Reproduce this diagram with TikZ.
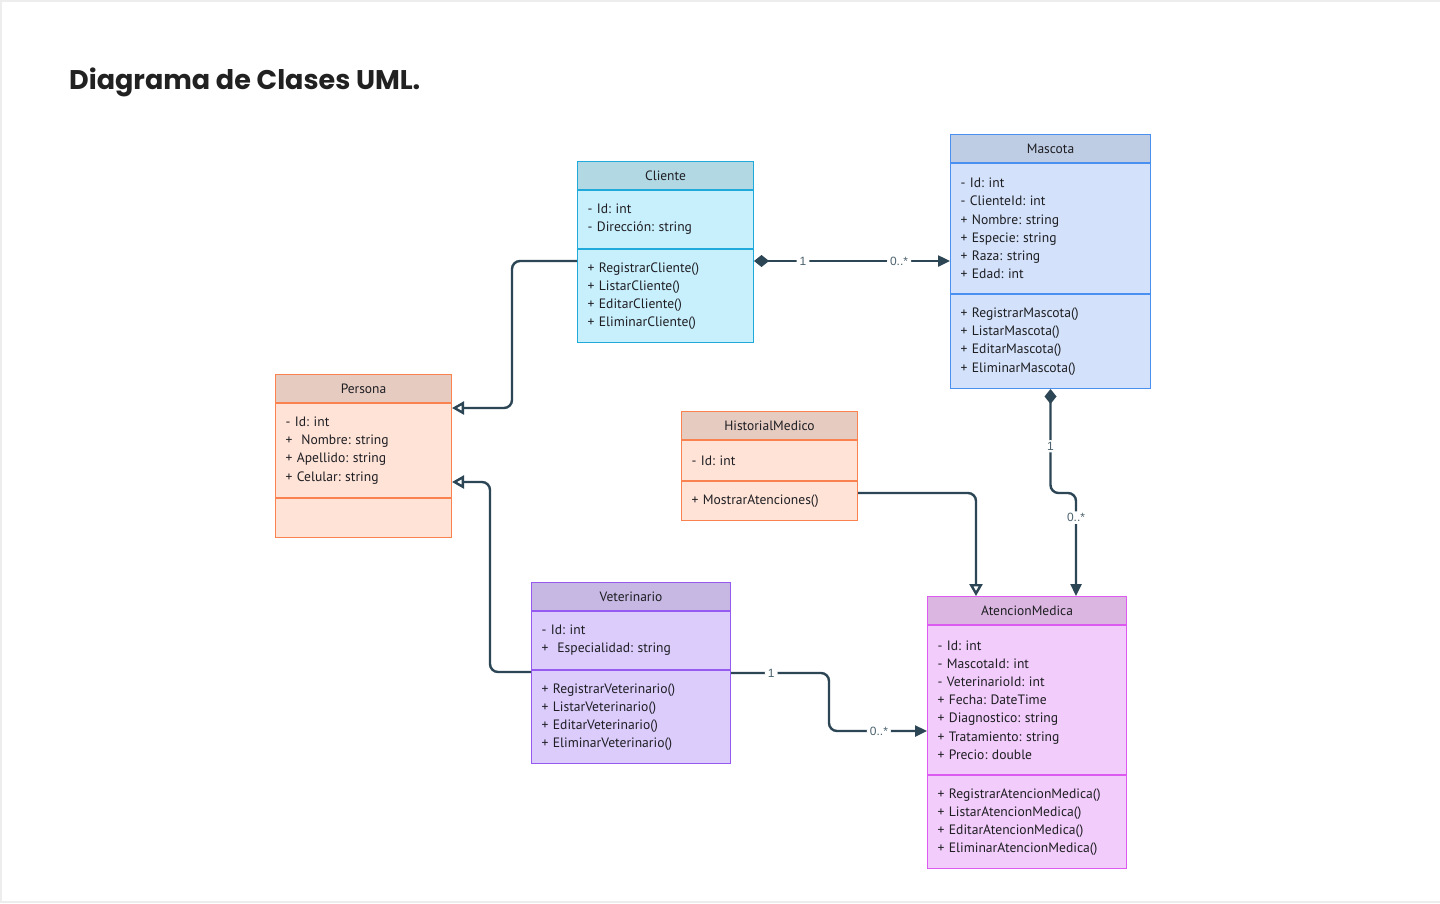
\documentclass[tikz,border=0pt]{standalone}
\usepackage{fontspec}
\setmainfont{PT Sans}
\newfontfamily\titlefont{Poppins}
\newfontfamily\lblfont{Liberation Sans}
\usetikzlibrary{arrows.meta,positioning}
\frenchspacing

\definecolor{cliHead}{RGB}{178,216,228}
\definecolor{cliBody}{RGB}{200,239,252}
\definecolor{cliLine}{RGB}{32,170,220}
\definecolor{masHead}{RGB}{190,205,228}
\definecolor{masBody}{RGB}{211,226,250}
\definecolor{masLine}{RGB}{74,144,240}
\definecolor{perHead}{RGB}{230,203,192}
\definecolor{perBody}{RGB}{255,227,215}
\definecolor{perLine}{RGB}{250,130,80}
\definecolor{vetHead}{RGB}{198,184,226}
\definecolor{vetBody}{RGB}{219,204,252}
\definecolor{vetLine}{RGB}{150,90,240}
\definecolor{ateHead}{RGB}{219,182,225}
\definecolor{ateBody}{RGB}{242,204,250}
\definecolor{ateLine}{RGB}{220,90,240}
\definecolor{wire}{RGB}{45,70,85}
\definecolor{ink}{RGB}{30,30,35}

\tikzset{
  head/.style={draw=#1Line, fill=#1Head, line width=1pt, inner sep=0pt,
    text=ink, font=\fontsize{13.5}{15}\selectfont},
  body/.style={draw=#1Line, fill=#1Body, line width=1pt, inner xsep=10pt,
    inner ysep=0pt, align=left, text=ink, font=\fontsize{13.6}{18.2}\selectfont},
  lbl/.style={fill=white, inner xsep=3pt, inner ysep=2pt, text=wire!85,
    font=\lblfont\fontsize{12}{13}\selectfont},
  wirebase/.style={wire, line width=2.4pt, rounded corners=8pt},
  gen/.style={wirebase, -{Triangle[open,length=12pt,width=13pt]}},
  comp/.style={wirebase, {Diamond[length=15pt,width=12pt]}-{Triangle[length=12pt,width=11pt]}},
  assoc/.style={wirebase, -{Triangle[length=12pt,width=11pt]}},
}

\begin{document}
\begin{tikzpicture}[x=1pt,y=-1pt]
  \useasboundingbox (0,0) rectangle (1440,903);
  \fill[black!7] (0,0) rectangle (1440,903);
  \fill[white] (1.5,2) rectangle (1440,901);

  \node[anchor=base west, inner sep=0pt, text=black!87, font=\titlefont\bfseries\fontsize{27}{30}\selectfont]
    (title) at (69,89) {Diagrama de Clases UML.};

  % Cliente
  \node[head=cli, minimum width=176pt, minimum height=28pt, anchor=north west] (cliente) at (577,161) {Cliente};
  \node[body=cli, text width=156pt, minimum height=58pt, below=0pt of cliente] (cliente-a)
    {- Id: int\\- Dirección: string};
  \node[body=cli, text width=156pt, minimum height=93pt, below=0pt of cliente-a] (cliente-m)
    {+ RegistrarCliente()\\+ ListarCliente()\\+ EditarCliente()\\+ EliminarCliente()};

  % Mascota
  \node[head=mas, minimum width=200pt, minimum height=28pt, anchor=north west] (mascota) at (950,134) {Mascota};
  \node[body=mas, text width=180pt, minimum height=130pt, below=0pt of mascota] (mascota-a)
    {- Id: int\\- ClienteId: int\\+ Nombre: string\\+ Especie: string\\+ Raza: string\\+ Edad: int};
  \node[body=mas, text width=180pt, minimum height=94pt, below=0pt of mascota-a] (mascota-m)
    {+ RegistrarMascota()\\+ ListarMascota()\\+ EditarMascota()\\+ EliminarMascota()};

  % Persona
  \node[head=per, minimum width=176pt, minimum height=28pt, anchor=north west] (persona) at (275,374) {Persona};
  \node[body=per, text width=156pt, minimum height=94pt, below=0pt of persona] (persona-a)
    {- Id: int\\+\ \ Nombre: string\\+ Apellido: string\\+ Celular: string};
  \node[body=per, text width=156pt, minimum height=39pt, below=0pt of persona-a] (persona-m) {};

  % HistorialMedico
  \node[head=per, minimum width=176pt, minimum height=28pt, anchor=north west] (historial) at (681,411) {HistorialMedico};
  \node[body=per, text width=156pt, minimum height=40pt, below=0pt of historial] (historial-a)
    {- Id: int};
  \node[body=per, text width=156pt, minimum height=39pt, below=0pt of historial-a] (historial-m)
    {+ MostrarAtenciones()};

  % Veterinario
  \node[head=vet, minimum width=199pt, minimum height=28pt, anchor=north west] (vet) at (531,582) {Veterinario};
  \node[body=vet, text width=179pt, minimum height=58pt, below=0pt of vet] (vet-a)
    {- Id: int\\+\ \ Especialidad: string};
  \node[body=vet, text width=179pt, minimum height=93pt, below=0pt of vet-a] (vet-m)
    {+ RegistrarVeterinario()\\+ ListarVeterinario()\\+ EditarVeterinario()\\+ EliminarVeterinario()};

  % AtencionMedica
  \node[head=ate, minimum width=199pt, minimum height=28pt, anchor=north west] (atencion) at (927,596) {AtencionMedica};
  \node[body=ate, text width=179pt, minimum height=149pt, below=0pt of atencion] (atencion-a)
    {- Id: int\\- MascotaId: int\\- VeterinarioId: int\\+ Fecha: DateTime\\+ Diagnostico: string\\+ Tratamiento: string\\+ Precio: double};
  \node[body=ate, text width=179pt, minimum height=93pt, below=0pt of atencion-a] (atencion-m)
    {+ RegistrarAtencionMedica()\\+ ListarAtencionMedica()\\+ EditarAtencionMedica()\\+ EliminarAtencionMedica()};

  % relations
  \draw[gen] ([yshift=-12pt]cliente-m.north west) -- ++(-65,0) |- ([yshift=-5pt]persona-a.north east);
  \draw[gen] ([yshift=-2pt]vet-m.north west) -- ++(-41,0) |- ([yshift=16pt]persona-a.south east);
  \coordinate (cm) at ([yshift=-12pt]cliente-m.north east);
  \draw[comp] (cm) -- node[lbl,pos=0.25]{1} node[lbl,pos=0.74]{0..*} (mascota-a.west |- cm);
  \draw[comp] (mascota-m.south) -- node[lbl,pos=0.55]{1} ++(0,104)
    -| node[lbl,pos=0.62]{0..*} ([xshift=49pt]atencion.north);
  \draw[gen] ([yshift=-12pt]historial-m.north east) -| ([xshift=-51pt]atencion.north);
  \draw[assoc] ([yshift=-3pt]vet-m.north east) -- node[lbl,pos=0.41]{1} ++(98,0)
    |- node[lbl,pos=0.755]{0..*} ([yshift=-106pt]atencion-a.north west);
\end{tikzpicture}
\end{document}
